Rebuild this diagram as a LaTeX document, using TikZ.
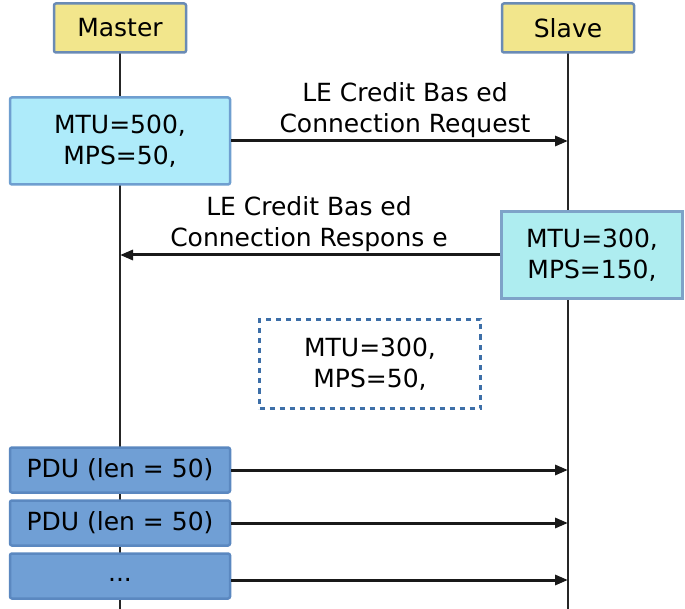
\documentclass[tikz,border=0pt]{standalone}
\usepackage{fontspec}
\setmainfont{DejaVu Sans}
\usetikzlibrary{arrows.meta}
\definecolor{actfill}{HTML}{F2E68C}
\definecolor{actdraw}{HTML}{6A8BB5}
\definecolor{reqfill}{HTML}{AEEBFA}
\definecolor{reqdraw}{HTML}{6F9FD0}
\definecolor{respfill}{HTML}{AEEDF0}
\definecolor{respdraw}{HTML}{7EA3C8}
\definecolor{dashdraw}{HTML}{3D6FA8}
\definecolor{pdufill}{HTML}{709FD5}
\definecolor{pdudraw}{HTML}{5B88C0}
\tikzset{
  txt/.style={font=\fontsize{25}{31}\selectfont, align=center, text=black},
  actor/.style={txt, draw=actdraw, fill=actfill, line width=2.5pt, rounded corners=2pt, minimum width=132pt, minimum height=49pt, inner sep=0pt},
  reqbox/.style={txt, draw=reqdraw, fill=reqfill, line width=2.5pt, rounded corners=2pt, minimum width=220pt, minimum height=87pt, inner sep=0pt},
  respbox/.style={txt, draw=respdraw, fill=respfill, line width=2.5pt, minimum width=181pt, minimum height=87pt, inner sep=0pt},
  dashbox/.style={txt, draw=dashdraw, line width=2.5pt, dash pattern=on 5pt off 5pt, minimum width=221pt, minimum height=89pt, inner sep=0pt},
  pdubox/.style={txt, draw=pdudraw, fill=pdufill, line width=2.5pt, rounded corners=2pt, minimum width=220pt, minimum height=45pt, inner sep=0pt},
  lifeline/.style={draw=black!85, line width=2.5pt},
  msg/.style={draw=black!90, line width=3pt, -{Triangle[length=13pt,width=10pt]}},
  lbl/.style={txt, inner sep=0pt}
}
\begin{document}
\begin{tikzpicture}[x=1pt,y=-1pt]
\useasboundingbox (0,0) rectangle (685,609);
% lifeline coordinates
\coordinate (mtop) at (120,28);
\coordinate (mbot) at (120,609);
\coordinate (stop) at (568,28);
\coordinate (sbot) at (568,609);
\draw[lifeline] (mtop) -- (mbot);
\draw[lifeline] (stop) -- (sbot);
% actors
\node[actor] (master) at (120,28) {Master};
\node[actor] (slave) at (568,28) {Slave};
% request
\node[reqbox] (req) at (120,141) {MTU=500,\\MPS=50,};
\coordinate (sreq) at (568,141);
\draw[msg] (req.east) -- (sreq);
\node[lbl] (reqlbl) at (405,110) {LE Credit Bas ed\\Connection Request};
% response
\node[respbox] (resp) at (592,255) {MTU=300,\\MPS=150,};
\coordinate (mresp) at (120,255);
\draw[msg] (resp.west) -- (mresp);
\node[lbl] (resplbl) at (309,224) {LE Credit Bas ed\\Connection Respons e};
% negotiated
\node[dashbox] (neg) at (370,364) {MTU=300,\\MPS=50,};
% PDUs
\node[pdubox] (p1) at (120,470) {PDU (len = 50)};
\node[pdubox] (p2) at (120,523) {PDU (len = 50)};
\node[pdubox, text depth=0pt, text height=10pt] (p3) at (120,576) {...};
\coordinate (s1) at (568,470);
\coordinate (s2) at (568,523);
\coordinate (s3) at (568,580);
\draw[msg] (p1.east) -- (s1);
\draw[msg] (p2.east) -- (s2);
\draw[msg] (p3.east |- s3) -- (s3);
\end{tikzpicture}
\end{document}
